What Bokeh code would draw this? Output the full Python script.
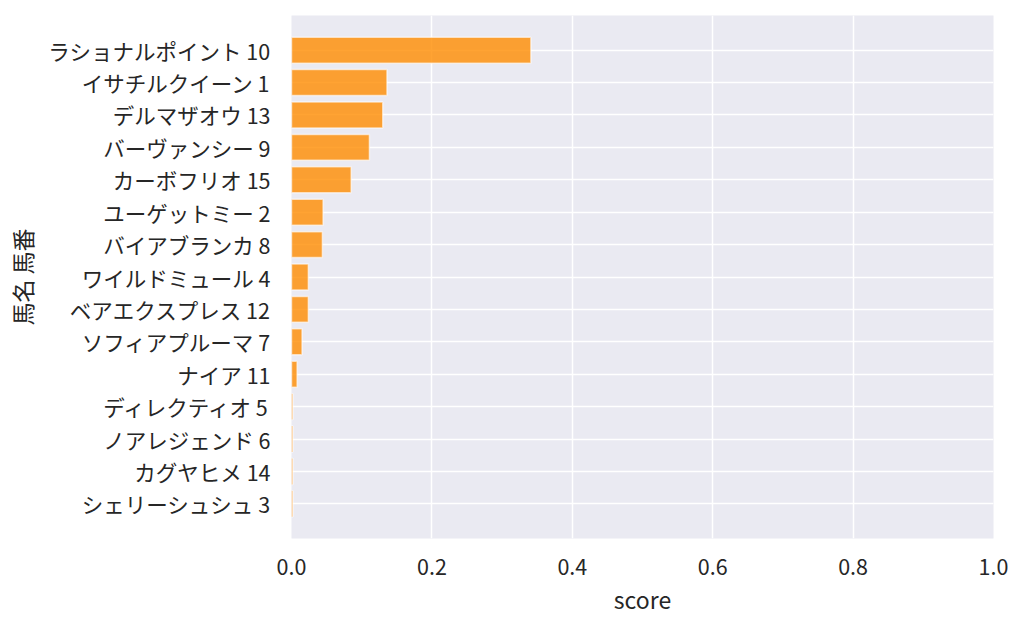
from bokeh.plotting import figure
from bokeh.models import FactorRange, Range1d, FixedTicker
from bokeh.embed import file_html
from bokeh.resources import INLINE

horses = ["ラショナルポイント 10", "イサチルクイーン 1", "デルマザオウ 13", "バーヴァンシー 9",
          "カーボフリオ 15", "ユーゲットミー 2", "バイアブランカ 8", "ワイルドミュール 4",
          "ベアエクスプレス 12", "ソフィアプルーマ 7", "ナイア 11", "ディレクティオ 5",
          "ノアレジェンド 6", "カグヤヒメ 14", "シェリーシュシュ 3"]
scores = [0.341, 0.136, 0.130, 0.111, 0.085, 0.045, 0.044, 0.024,
          0.024, 0.015, 0.008, 0.002, 0.002, 0.002, 0.002]
xticks = [0.0, 0.2, 0.4, 0.6, 0.8, 1.0]

FONT = "Noto Sans CJK JP"
factors = list(reversed(horses))

p = figure(y_range=FactorRange(factors=factors, range_padding=0.076, range_padding_units="percent"),
           x_range=Range1d(0, 1.0),
           frame_width=702, frame_height=523,
           output_backend="svg", toolbar_location=None)
p.min_border_left = 291
p.min_border_top = 15
p.min_border_right = 23
p.min_border_bottom = 75

p.hbar(y=horses, right=scores, left=0, height=0.8,
       fill_color="#ff8c00", fill_alpha=0.8,
       line_color="white", line_alpha=0.6, line_width=1.5)

p.background_fill_color = "#EAEAF2"
p.border_fill_color = "white"
p.outline_line_color = None
p.grid.grid_line_color = "white"
p.grid.grid_line_width = 1.5
p.xgrid.ticker = FixedTicker(ticks=xticks)

p.xaxis.ticker = FixedTicker(ticks=xticks)
p.xaxis.major_label_overrides = {t: f"{t:.1f}" for t in xticks}
for ax in (p.xaxis[0], p.yaxis[0]):
    ax.axis_line_color = None
    ax.major_tick_line_color = None
    ax.minor_tick_line_color = None
    ax.major_label_text_font = FONT
    ax.major_label_text_font_size = "21.5px"
    ax.major_label_text_color = "#262626"
    ax.axis_label_text_font = FONT
    ax.axis_label_text_font_size = "23px"
    ax.axis_label_text_font_style = "normal"
    ax.axis_label_text_color = "#262626"
p.xaxis.axis_label = "score"
p.yaxis.axis_label = "馬名 馬番"
p.xaxis.major_label_standoff = 14
p.yaxis.major_label_standoff = 15
p.xaxis.axis_label_standoff = 4
p.yaxis.axis_label_standoff = 6

open("out.html", "w").write(file_html(p, INLINE))
